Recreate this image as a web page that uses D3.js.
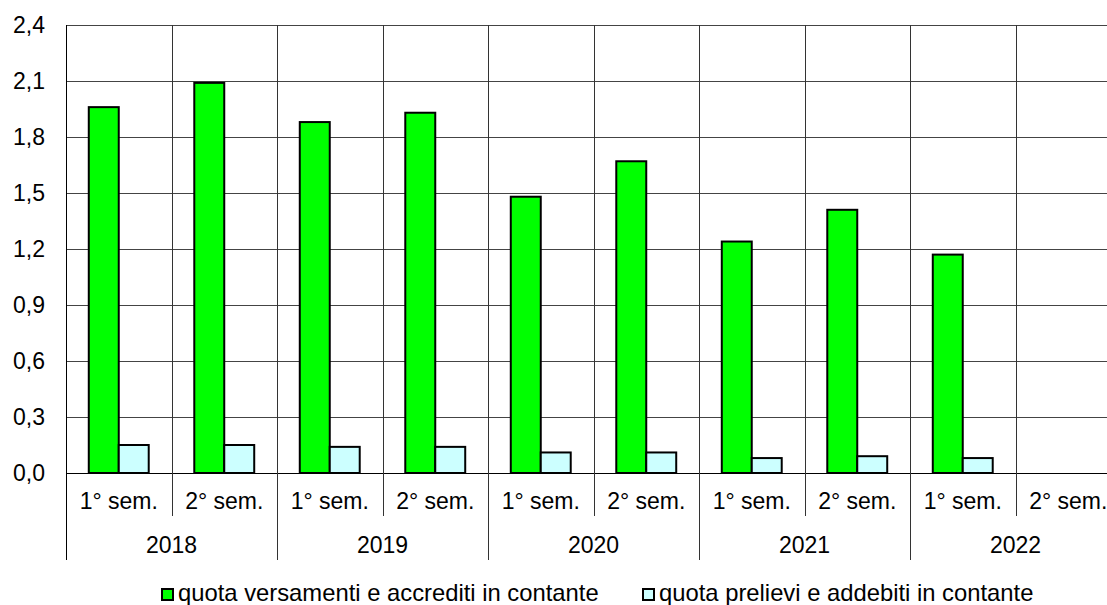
<!DOCTYPE html>
<html>
<head>
<meta charset="utf-8">
<script src="https://cdn.jsdelivr.net/npm/d3@7"></script>
<style>
  body { margin: 0; background: #fff; }
  svg { display: block; font-family: "Liberation Sans", Arial, sans-serif; }
</style>
</head>
<body>
<svg id="chart" width="1107" height="605"></svg>
<script>
const years = ['2018', '2019', '2020', '2021', '2022'];
const semesters = ['1° sem.', '2° sem.'];
const versamenti = [1.96, 2.09, 1.88, 1.93, 1.48, 1.67, 1.24, 1.41, 1.17, null];
const prelievi = [0.15, 0.15, 0.14, 0.14, 0.11, 0.11, 0.08, 0.09, 0.08, null];
const seriesNames = [
  'quota versamenti e accrediti in contante',
  'quota prelievi e addebiti in contante'
];
const seriesColors = ['#00ff00', '#ccffff'];
const yTicks = [0, 0.3, 0.6, 0.9, 1.2, 1.5, 1.8, 2.1, 2.4];

const svg = d3.select('#chart');

const plotLeft = 66;
const plotRight = 1121;
const plotTop = 25;
const plotBottom = 473;

// one slot per semester, 10 in total
const slots = [];
years.forEach(y => semesters.forEach(s => slots.push({ year: y, sem: s })));
slots.forEach((d, i) => {
  d.values = [versamenti[i], prelievi[i]];
});

const x = d3
  .scaleBand()
  .domain(d3.range(slots.length))
  .range([plotLeft, plotRight])
  .padding(0);

const x1 = d3
  .scaleBand()
  .domain([0, 1])
  .range([0, x.bandwidth()])
  .paddingInner(0)
  .paddingOuter(0.76);

const y = d3.scaleLinear().domain([0, 2.4]).range([plotBottom, plotTop]);

const locale = d3.formatLocale({ decimal: ',', thousands: '.', grouping: [3], currency: ['€', ''] });
const fmt = locale.format('.1f');

// horizontal grid
svg
  .append('g')
  .selectAll('line')
  .data(yTicks)
  .enter()
  .append('line')
  .attr('x1', plotLeft)
  .attr('x2', plotRight)
  .attr('y1', d => Math.round(y(d)) + 0.5)
  .attr('y2', d => Math.round(y(d)) + 0.5)
  .attr('stroke', d => (d === 0 ? '#000' : '#444'))
  .attr('stroke-width', 1);

// vertical grid (slot boundaries)
const bounds = d3.range(slots.length + 1).map(i => (i < slots.length ? x(i) : plotRight));
svg
  .append('g')
  .selectAll('line')
  .data(bounds)
  .enter()
  .append('line')
  .attr('x1', d => Math.round(d) + 0.5)
  .attr('x2', d => Math.round(d) + 0.5)
  .attr('y1', plotTop)
  .attr('y2', (d, i) => (i % 2 === 0 ? 560 : 516))
  .attr('stroke', (d, i) => (i === 0 ? '#000' : '#333'))
  .attr('stroke-width', 1);

// y tick labels
svg
  .append('g')
  .selectAll('text')
  .data(yTicks)
  .enter()
  .append('text')
  .attr('x', 45)
  .attr('y', d => y(d) + 8)
  .attr('text-anchor', 'end')
  .attr('font-size', '23px')
  .attr('fill', '#000')
  .text(d => fmt(d));

// bars
const groups = svg
  .append('g')
  .selectAll('g')
  .data(slots)
  .enter()
  .append('g')
  .attr('transform', (d, i) => 'translate(' + x(i) + ',0)');

groups
  .selectAll('rect')
  .data(d => d.values.map((v, k) => ({ v: v, k: k })).filter(e => e.v != null))
  .enter()
  .append('rect')
  .attr('x', d => x1(d.k))
  .attr('y', d => y(d.v))
  .attr('width', x1.bandwidth())
  .attr('height', d => plotBottom - y(d.v))
  .attr('fill', d => seriesColors[d.k])
  .attr('stroke', '#000')
  .attr('stroke-width', 2);

// semester labels
svg
  .append('g')
  .selectAll('text')
  .data(slots)
  .enter()
  .append('text')
  .attr('x', (d, i) => x(i) + x.bandwidth() / 2)
  .attr('y', 509)
  .attr('text-anchor', 'middle')
  .attr('font-size', '23px')
  .text(d => d.sem);

// year labels
svg
  .append('g')
  .selectAll('text')
  .data(years)
  .enter()
  .append('text')
  .attr('x', (d, i) => x(i * 2) + x.bandwidth())
  .attr('y', 553)
  .attr('text-anchor', 'middle')
  .attr('font-size', '23px')
  .text(d => d);

// legend
const legendX = [162, 643];
const legend = svg
  .append('g')
  .selectAll('g')
  .data(seriesNames)
  .enter()
  .append('g')
  .attr('transform', (d, i) => 'translate(' + legendX[i] + ',589)');

legend
  .append('rect')
  .attr('x', 0)
  .attr('y', 0)
  .attr('width', 11)
  .attr('height', 11)
  .attr('fill', (d, i) => seriesColors[i])
  .attr('stroke', '#000')
  .attr('stroke-width', 2);

legend
  .append('text')
  .attr('x', 16)
  .attr('y', 12)
  .attr('font-size', '23.8px')
  .text(d => d);
</script>
</body>
</html>
